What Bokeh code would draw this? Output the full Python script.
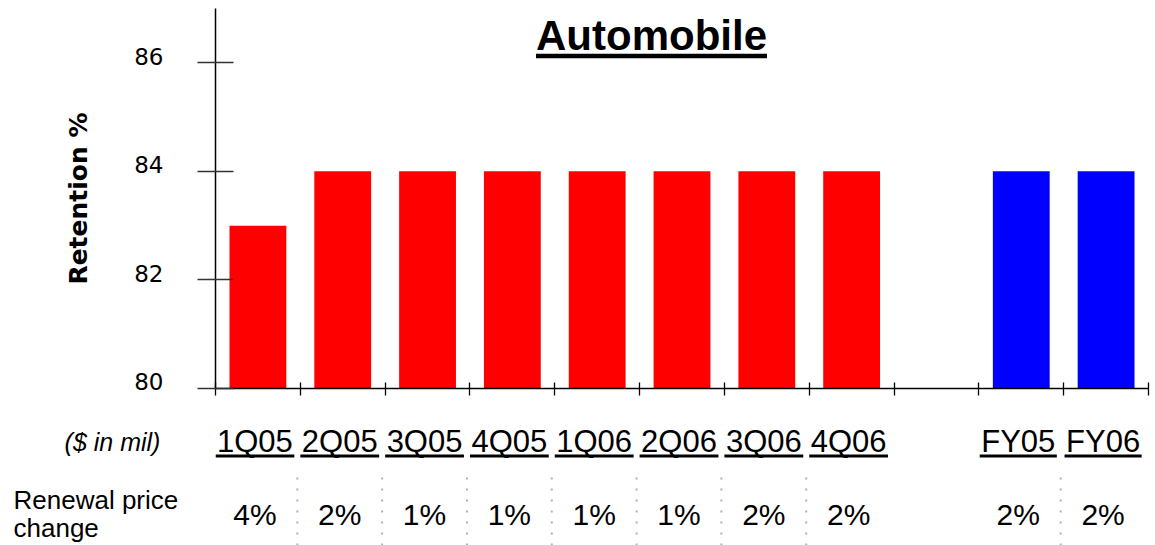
from bokeh.plotting import figure
from bokeh.layouts import column, row
from bokeh.models import Range1d, FixedTicker, ColumnDataSource, CustomJSTickFormatter
from bokeh.core.properties import value
from bokeh.embed import file_html
from bokeh.resources import INLINE

# ---------------- data ----------------
categories = ["1Q05", "2Q05", "3Q05", "4Q05", "1Q06", "2Q06", "3Q06", "4Q06", "", "FY05", "FY06"]
retention = [83, 84, 84, 84, 84, 84, 84, 84, None, 84, 84]
price_change = ["4%", "2%", "1%", "1%", "1%", "1%", "2%", "2%", "", "2%", "2%"]
series = ["Q", "Q", "Q", "Q", "Q", "Q", "Q", "Q", "", "FY", "FY"]
y_ticks = [80, 82, 84, 86]
title_text = "Automobile"
y_label = "Retention %"
unit_note = "($ in mil)"
row_label = ["Renewal price", "change"]

# ---------------- layout constants ----------------
W, H_TOP, H_BOT = 1155, 400, 145
LEFT, RIGHT, TOP, BOTTOM = 215, 7, 8, 12
N = len(categories)
FRAME_W = W - LEFT - RIGHT
FRAME_H = H_TOP - TOP - BOTTOM
SLOT = FRAME_W / N
Y0, Y1 = 80, 87
PX_PER_Y = FRAME_H / (Y1 - Y0)
FONT = "Liberation Sans"

def py_to_y(py):
    return Y1 - (py - TOP) / PX_PER_Y

def px_to_x(px):
    return (px - LEFT) / SLOT

colors = {"Q": "#FF0000", "FY": "#0000FF"}

def bare(fig):
    fig.outline_line_color = None
    fig.grid.visible = False
    fig.background_fill_color = "white"
    fig.border_fill_color = "white"

# ---------------- top chart ----------------
p = figure(width=W, height=H_TOP, output_backend="svg", toolbar_location=None,
           x_range=Range1d(0, N), y_range=Range1d(Y0, Y1),
           min_border_left=LEFT, min_border_right=RIGHT,
           min_border_top=TOP, min_border_bottom=BOTTOM)
bare(p)

idx = [i for i, v in enumerate(retention) if v is not None]
bars = ColumnDataSource(dict(
    x=[i + 0.5 for i in idx],
    top=[retention[i] for i in idx],
    color=[colors[series[i]] for i in idx],
))
p.vbar(x="x", top="top", bottom=Y0, width=0.67, color="color", line_color=None, source=bars)

# y axis: tick marks drawn as minor ticks at the values, labels sit just above them
LABEL_LIFT = 0.125
ya = p.yaxis[0]
ya.ticker = FixedTicker(ticks=[v + LABEL_LIFT for v in y_ticks], minor_ticks=y_ticks)
ya.formatter = CustomJSTickFormatter(code="return Math.floor(tick).toString();")
ya.axis_line_color = "black"
ya.axis_line_width = 1.5
ya.major_tick_in = 0
ya.major_tick_out = 0
ya.minor_tick_in = 18
ya.minor_tick_out = 18
ya.minor_tick_line_color = "#333333"
ya.minor_tick_line_width = 1.3
ya.major_label_text_font = "DejaVu Sans"
ya.major_label_text_font_size = "23px"
ya.major_label_text_color = "black"
ya.major_label_standoff = 34
ya.axis_label = y_label
ya.axis_label_text_font = "DejaVu Sans"
ya.axis_label_text_font_style = "bold"
ya.axis_label_text_font_size = "25px"
ya.axis_label_text_color = "black"
ya.axis_label_standoff = 38

# x axis: slot boundaries as (label-free) minor ticks
xa = p.xaxis[0]
xa.ticker = FixedTicker(ticks=[], minor_ticks=list(range(N + 1)))
xa.axis_line_color = "black"
xa.axis_line_width = 1.5
xa.minor_tick_in = 6
xa.minor_tick_out = 7
xa.minor_tick_line_color = "black"
xa.minor_tick_line_width = 1.3
xa.major_label_standoff = 0

# title with underline
TITLE_SIZE = 42
title_w = (0.722 + 0.611 + 0.333 + 0.611 + 0.889 + 0.611 + 0.611 + 0.278 + 0.278 + 0.556) * TITLE_SIZE
title_x = px_to_x(651)
p.text(x=[title_x], y=[py_to_y(35)], text=[title_text], text_font=value(FONT),
       text_font_style="bold", text_font_size=f"{TITLE_SIZE}px", text_align="center",
       text_baseline="middle", text_color="black")
p.segment(x0=[title_x - title_w / 2 / SLOT], x1=[title_x + title_w / 2 / SLOT],
          y0=[py_to_y(55.5)], y1=[py_to_y(55.5)], line_color="black", line_width=4.5)

# ---------------- table row labels (left block, page-pixel coordinates) ----------------
tl = figure(width=LEFT, height=H_BOT, output_backend="svg", toolbar_location=None,
            x_range=Range1d(0, LEFT), y_range=Range1d(H_TOP + H_BOT, H_TOP),
            min_border_left=0, min_border_right=0, min_border_top=0, min_border_bottom=0)
tl.axis.visible = False
bare(tl)
tl.text(x=[112], y=[441], text=[unit_note], text_font=value(FONT),
        text_font_style="italic", text_font_size="25px", text_align="center",
        text_baseline="middle", text_color="black")
tl.text(x=[13, 13], y=[499, 527], text=row_label, text_font=value(FONT),
        text_font_size="26px", text_align="left", text_baseline="middle",
        text_color="black")

# ---------------- table body (x in slot units, y in page pixels) ----------------
tr = figure(width=W - LEFT, height=H_BOT, output_backend="svg", toolbar_location=None,
            x_range=Range1d(0, (W - LEFT) / SLOT), y_range=Range1d(H_TOP + H_BOT, H_TOP),
            min_border_left=0, min_border_right=0, min_border_top=0, min_border_bottom=0)
tr.axis.visible = False
bare(tr)

CAT_SIZE = 31
char_w = {"Q": 0.778, "F": 0.611, "Y": 0.667}
lab_idx = [i for i, c in enumerate(categories) if c]
lab_x = [i + 0.5 - 3 / SLOT for i in lab_idx]
widths = [(sum(char_w.get(ch, 0.556) for ch in categories[i]) * CAT_SIZE + 3) / SLOT for i in lab_idx]

tr.text(x=lab_x, y=[441] * len(lab_idx), text=[categories[i] for i in lab_idx],
        text_font=value(FONT), text_font_size=f"{CAT_SIZE}px", text_align="center",
        text_baseline="middle", text_color="black")
tr.segment(x0=[x - w / 2 for x, w in zip(lab_x, widths)],
           x1=[x + w / 2 for x, w in zip(lab_x, widths)],
           y0=[455.5] * len(lab_idx), y1=[455.5] * len(lab_idx),
           line_color="black", line_width=3)

tr.text(x=lab_x, y=[514] * len(lab_idx), text=[price_change[i] for i in lab_idx],
        text_font=value(FONT), text_font_size="30px", text_align="center",
        text_baseline="middle", text_color="black")

# dotted separators between adjacent columns
sep = [(a + b) / 2 for a, b, ia, ib in zip(lab_x, lab_x[1:], lab_idx, lab_idx[1:]) if ib - ia == 1]
tr.segment(x0=sep, x1=sep, y0=[477] * len(sep), y1=[H_TOP + H_BOT] * len(sep),
           line_color="#b0b0b0", line_width=2, line_dash="2 9")

layout = column(p, row(tl, tr, spacing=0), spacing=0)
open("out.html", "w").write(file_html(layout, INLINE))
